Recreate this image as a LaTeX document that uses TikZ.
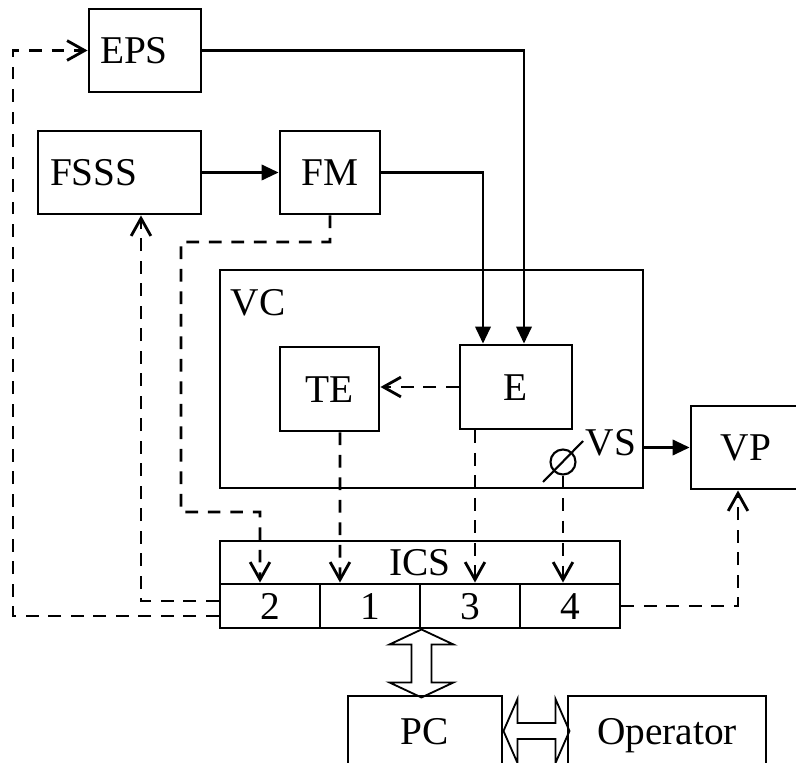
\documentclass[tikz,border=0pt]{standalone}
\usepackage{fontspec}
\setmainfont{Liberation Serif}
\usetikzlibrary{arrows.meta}

\begin{document}
\begin{tikzpicture}[>={Triangle[length=12pt,width=11pt]},
  every node/.style={font=\fontsize{28}{32}\selectfont, text height=18.5pt, text depth=0pt},
  blk/.style={draw, line width=2.1pt, inner sep=0pt},
  flow/.style={line width=1.5pt, ->},
  ctl/.style={line width=2pt, dash pattern=on 9pt off 7pt, -{Straight Barb[length=12.5pt,width=14pt]}},
  hollow/.style={line width=1.3pt, line join=miter}]
  \useasboundingbox (0,0) rectangle (19.9,19.05);
  \clip (0,0) rectangle (19.9,19.05);

  % blocks
  \node[blk, minimum width=2.8cm, minimum height=2.075cm, text width=2.25cm, inner xsep=0.275cm, align=left] (eps) at (3.625,17.7875) {EPS};
  \node[blk, minimum width=4.075cm, minimum height=2.075cm, text width=3.475cm, inner xsep=0.3cm, align=left] (fsss) at (2.9875,14.7375) {FSSS};
  \node[blk, minimum width=2.5cm, minimum height=2.075cm] (fm) at (8.25,14.7375) {FM};
  \node[blk, minimum width=10.575cm, minimum height=5.45cm] (vc) at (10.7875,9.575) {};
  \node (vclbl) at (6.45,11.5) {VC};
  \node[blk, minimum width=2.475cm, minimum height=2.1cm] (te) at (8.2375,9.325) {TE};
  \node[blk, minimum width=2.8cm, minimum height=2.1cm] (e) at (12.9,9.375) {E};
  \node[draw, circle, line width=1.5pt, inner sep=0pt, text height=0pt, minimum size=0.625cm] (vs) at (14.075,7.5) {};
  \node (vslbl) at (15.275,8.0) {VS};
  \node[blk, minimum width=2.75cm, minimum height=2.075cm] (vp) at (18.65,7.8625) {VP};

  % ICS and its four channels
  \node[blk, minimum width=10cm, minimum height=1.075cm] (ics) at (10.5,4.9875) {ICS};
  \node[blk, minimum width=2.5cm, minimum height=1.1cm] (cell2) at (6.75,3.9) {2};
  \node[blk, minimum width=2.5cm, minimum height=1.1cm] (cell1) at (9.25,3.9) {1};
  \node[blk, minimum width=2.5cm, minimum height=1.1cm] (cell3) at (11.75,3.9) {3};
  \node[blk, minimum width=2.5cm, minimum height=1.1cm] (cell4) at (14.25,3.9) {4};

  \node[blk, minimum width=3.85cm, minimum height=1.75cm] (pc) at (10.625,0.775) {PC};
  \node[blk, minimum width=4.95cm, minimum height=1.75cm] (op) at (16.675,0.775) {Operator};

  % solid links
  \draw[flow] (fsss) -- (fm);
  \draw[flow] (eps.east) -| ([xshift=0.2cm]e.north);
  \draw[flow] (fm.east) -| ([xshift=-0.825cm]e.north);
  \draw[flow] (vp.west -| vc.east) -- (vp.west);
  \draw[line width=1.5pt] ([shift={(-0.5,-0.5)}]vs.center) -- ([shift={(0.5,0.525)}]vs.center);

  % control links
  \coordinate (lft) at (0.325,17.7875);
  \draw[ctl] (e.west) -- (e.west -| te.east);
  \draw[ctl] (fm.south) |- (4.525,13) |- (6.5,6.25) -- ([xshift=-0.25cm]cell2.north);
  \draw[ctl] ([xshift=0.2625cm]te.south) -- ([xshift=-0.75cm]cell1.north);
  \draw[ctl] ([xshift=-1.025cm]e.south) -- ([xshift=0.125cm]cell3.north);
  \draw[ctl] (vs.south) -- (vs.south |- cell4.north);
  \draw[ctl] ([yshift=0.125cm]cell2.west) -| ([xshift=0.5375cm]fsss.south);
  \draw[ctl] ([yshift=-0.25cm]cell2.west) -| (lft) -- (eps.west);
  \draw[ctl] (cell4.east) -| ([xshift=-0.2cm]vp.south);

  % data exchange
  \draw[hollow] (cell1.south east) -- ++(0.8,-0.375) -- ++(-0.55,0) -- ++(0,-0.95) -- ++(0.55,0) -- ++(-0.8,-0.375)
    -- ++(-0.8,0.375) -- ++(0.55,0) -- ++(0,0.95) -- ++(-0.55,0) -- cycle;
  \draw[hollow] (pc.east) -- ++(0.35,0.8) -- ++(0,-0.6) -- ++(0.95,0) -- ++(0,0.6) -- ++(0.35,-0.8)
    -- ++(-0.35,-0.8) -- ++(0,0.6) -- ++(-0.95,0) -- ++(0,-0.6) -- cycle;
\end{tikzpicture}
\end{document}
